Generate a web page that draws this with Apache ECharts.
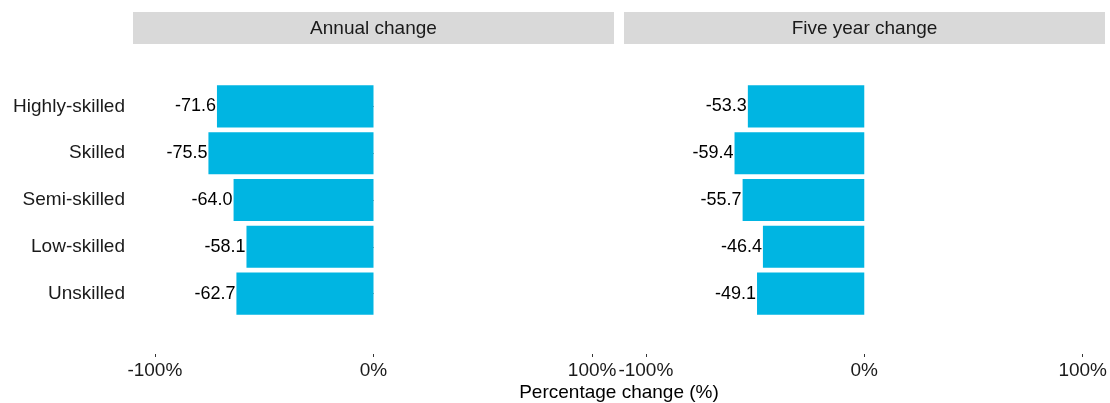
<!DOCTYPE html>
<html>
<head>
<meta charset="utf-8">
<script src="https://cdn.jsdelivr.net/npm/echarts@6/dist/echarts.min.js"></script>
<style>html,body{margin:0;padding:0;background:#fff;}#c{width:1110px;height:403px;}</style>
</head>
<body>
<div id="c"></div>
<script>
const categories = ["Highly-skilled", "Skilled", "Semi-skilled", "Low-skilled", "Unskilled"];
const panelTitles = ["Annual change", "Five year change"];
const annualChange = [-71.6, -75.5, -64.0, -58.1, -62.7];
const fiveYearChange = [-53.3, -59.4, -55.7, -46.4, -49.1];
const tickValues = [-100, 0, 100];
const axisTitle = "Percentage change (%)";

const FONT = "Liberation Sans, Arial, sans-serif";
const BAR = "#00B5E2";
const panels = [{left: 133, data: annualChange}, {left: 624, data: fiveYearChange}];
const W = 481;

const chart = echarts.init(document.getElementById('c'), null, {renderer: 'canvas'});
const grids = [], xAxes = [], yAxes = [], series = [], graphics = [];
panels.forEach((p, i) => {
  grids.push({left: p.left, width: W, top: 83, height: 234, containLabel: false});
  xAxes.push({
    type: 'value', gridIndex: i, min: -110, max: 110, offset: 37,
    splitLine: {show: false},
    axisLine: {show: false},
    axisTick: {show: true, length: 3, lineStyle: {color: '#333', width: 1},
      customValues: tickValues},
    axisLabel: {show: true, customValues: tickValues, margin: 7, fontSize: 19, color: '#1a1a1a', fontFamily: FONT,
      formatter: v => v + '%'}
  });
  yAxes.push({
    type: 'category', gridIndex: i, data: categories, inverse: true,
    axisLine: {show: false},
    axisTick: {show: i === 0, length: 3, alignWithLabel: true, lineStyle: {color: '#333'}},
    axisLabel: {show: i === 0, fontSize: 19, color: '#1a1a1a', fontFamily: FONT, margin: 8},
    splitLine: {show: false}
  });
  series.push({
    type: 'bar', xAxisIndex: i, yAxisIndex: i, data: p.data,
    barCategoryGap: '10%',
    itemStyle: {color: BAR},
    label: {show: true, position: 'left', distance: 1, fontSize: 18, color: '#000', fontFamily: FONT,
      formatter: d => d.value.toFixed(1)}
  });
  graphics.push({type: 'rect', shape: {x: p.left, y: 12, width: W, height: 32}, style: {fill: '#D9D9D9'}, silent: true});
  graphics.push({type: 'text', x: p.left + W / 2, y: 29, style: {text: panelTitles[i], fill: '#1a1a1a', font: '19px ' + FONT, textAlign: 'center', textVerticalAlign: 'middle'}});
});
graphics.push({type: 'text', x: 619, y: 393, style: {text: axisTitle, fill: '#000', font: '19px ' + FONT, textAlign: 'center', textVerticalAlign: 'middle'}});

chart.setOption({
  animation: false,
  backgroundColor: '#fff',
  grid: grids, xAxis: xAxes, yAxis: yAxes, series: series,
  graphic: graphics
});
</script>
</body>
</html>
